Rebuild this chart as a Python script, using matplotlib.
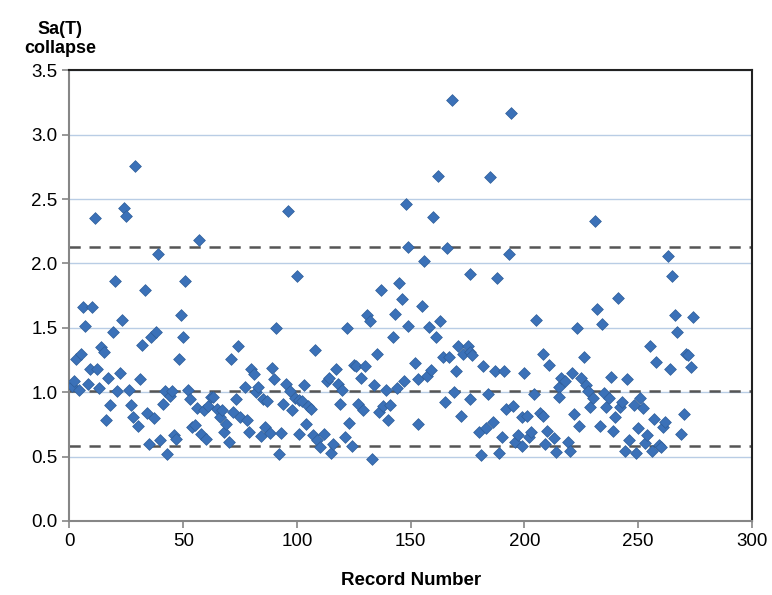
import matplotlib
matplotlib.use('Agg')
import matplotlib.pyplot as plt

plt.rcParams['font.family'] = ['Liberation Sans', 'DejaVu Sans']

# record number / Sa(T) at collapse
rec = [1, 2, 3, 4, 5, 6, 7, 8, 9, 10, 11, 12, 13, 14, 15, 16, 17, 18, 19, 20,
       21, 22, 23, 24, 25, 26, 27, 28, 29, 30, 31, 32, 33, 34, 35, 36, 37, 38, 39, 40,
       41, 42, 43, 44, 45, 46, 47, 48, 49, 50, 51, 52, 53, 54, 55, 56, 57, 58, 59, 60,
       61, 62, 63, 65, 66, 67, 68, 69, 70, 71, 72, 73, 74, 75, 77, 78, 79, 80, 81, 82,
       83, 84, 85, 86, 87, 88, 89, 90, 91, 92, 93, 94, 95, 96, 97, 98, 99, 100, 101, 101,
       102, 103, 104, 105, 106, 107, 108, 109, 110, 112, 113, 114, 115, 116, 117, 118, 119, 120, 121, 122,
       123, 124, 125, 126, 127, 128, 129, 130, 131, 132, 133, 134, 135, 136, 137, 138, 139, 140, 141, 142,
       143, 144, 145, 146, 147, 148, 149, 149, 152, 153, 153, 155, 156, 157, 158, 159, 160, 161, 162, 163,
       164, 165, 166, 167, 168, 169, 170, 171, 172, 173, 175, 176, 176, 176, 177, 180, 181, 182, 183, 184,
       185, 186, 187, 188, 189, 190, 191, 192, 193, 194, 195, 196, 197, 199, 199, 200, 201, 202, 203, 204,
       205, 207, 208, 208, 209, 210, 211, 213, 214, 215, 215, 216, 218, 219, 220, 221, 222, 223, 224, 225,
       226, 227, 228, 229, 230, 231, 232, 233, 234, 235, 236, 237, 238, 239, 240, 241, 242, 243, 244, 245,
       246, 248, 249, 250, 251, 252, 253, 254, 255, 256, 257, 258, 259, 260, 261, 262, 263, 264, 265, 266,
       267, 269, 270, 271, 272, 273, 274]
sa = [1.05, 1.09, 1.26, 1.02, 1.30, 1.66, 1.515, 1.06, 1.18, 1.66, 2.35, 1.18, 1.03, 1.35, 1.31, 0.785, 1.11, 0.90, 1.47, 1.865,
      1.01, 1.15, 1.56, 2.43, 2.37, 1.02, 0.90, 0.81, 2.76, 0.74, 1.10, 1.37, 1.795, 0.84, 0.60, 1.43, 0.80, 1.47, 2.07, 0.625,
      0.91, 1.01, 0.52, 0.97, 1.01, 0.67, 0.635, 1.26, 1.60, 1.43, 1.865, 1.02, 0.95, 0.73, 0.745, 0.875, 2.18, 0.675, 0.86, 0.64,
      0.89, 0.96, 0.96, 0.87, 0.81, 0.86, 0.69, 0.755, 0.61, 1.26, 0.85, 0.95, 1.355, 0.81, 1.04, 0.785, 0.69, 1.18, 1.14, 1.005,
      1.04, 0.66, 0.945, 0.73, 0.93, 0.68, 1.19, 1.10, 1.50, 0.52, 0.68, 0.91, 1.06, 2.41, 1.01, 0.86, 0.955, 1.906, 0.94, 0.676,
      0.93, 1.057, 0.755, 0.89, 0.87, 0.668, 1.33, 0.63, 0.578, 0.676, 1.09, 1.11, 0.53, 0.60, 1.18, 1.065, 0.91, 1.02, 0.655, 1.50,
      0.76, 0.585, 1.21, 1.20, 0.91, 1.11, 0.86, 1.20, 1.60, 1.55, 0.484, 1.057, 1.295, 0.85, 1.795, 0.89, 1.02, 0.785, 0.90, 1.43,
      1.61, 1.03, 1.85, 1.72, 1.09, 2.46, 2.13, 1.515, 1.225, 1.10, 0.754, 1.67, 2.02, 1.127, 1.505, 1.17, 2.36, 1.43, 2.68, 1.55,
      1.27, 0.927, 2.12, 1.27, 3.27, 1.005, 1.165, 1.36, 0.816, 1.30, 1.36, 1.31, 0.948, 1.917, 1.29, 0.694, 0.513, 1.20, 0.72, 0.987,
      2.67, 0.767, 1.165, 1.89, 0.526, 0.655, 1.165, 0.87, 2.07, 3.17, 0.896, 0.616, 0.668, 0.585, 0.81, 1.147, 0.816, 0.655, 0.694, 0.987,
      1.56, 0.837, 0.816, 1.30, 0.598, 0.70, 1.21, 0.642, 0.539, 1.04, 0.966, 1.11, 1.09, 0.616, 0.546, 1.15, 0.83, 1.50, 0.74, 1.11,
      1.277, 1.057, 1.013, 0.883, 0.953, 2.33, 1.645, 0.74, 1.53, 0.997, 0.883, 0.953, 1.116, 0.70, 0.81, 1.735, 0.883, 0.927, 0.546, 1.106,
      0.63, 0.90, 0.531, 0.72, 0.953, 0.875, 0.609, 0.668, 1.355, 0.546, 0.79, 1.238, 0.59, 0.578, 0.728, 0.767, 2.06, 1.18, 1.90, 1.60,
      1.466, 0.676, 0.83, 1.295, 1.29, 1.194, 1.58]

# horizontal reference levels (dashed)
levels = [2.13, 1.01, 0.585]

fig = plt.figure(figsize=(7.72, 5.95), dpi=100)
ax = fig.add_axes([0.09, 0.1244, 0.884, 0.7576])

ax.set_xlim(0, 300)
ax.set_ylim(0, 3.5)
ax.set_xticks(range(0, 301, 50))
ax.set_yticks([i * 0.5 for i in range(8)])
ax.set_yticklabels(['%.1f' % (i * 0.5) for i in range(8)])

ax.grid(axis='y', color='#B9CDE5', linewidth=1.0)
ax.set_axisbelow(True)

for lv in levels:
    ax.axhline(lv, color='#555555', linewidth=1.8, dashes=(4.5, 3.5), zorder=2)

ax.scatter(rec, sa, marker='D', s=36, color='#3B71B8', edgecolors='#2F5E99',
           linewidths=0.5, zorder=3)

for side in ['left', 'bottom']:
    ax.spines[side].set_color('#868686')
    ax.spines[side].set_linewidth(1.5)
for side in ['top', 'right']:
    ax.spines[side].set_color('#222222')
    ax.spines[side].set_linewidth(1.5)

ax.tick_params(axis='both', labelsize=13.5, color='#868686', length=5, width=1.2)

fig.text(0.078, 0.905, 'Sa(T)\ncollapse', ha='center', va='bottom',
         fontsize=13, fontweight='bold', linespacing=1.1)
fig.text(0.532, 0.025, 'Record Number', ha='center', va='center',
         fontsize=13.5, fontweight='bold')

plt.savefig('out.png', dpi=100)
